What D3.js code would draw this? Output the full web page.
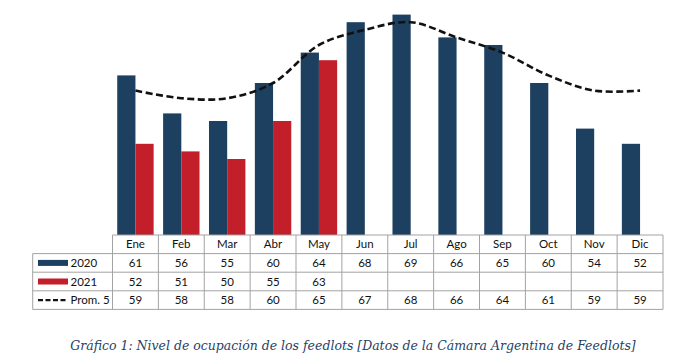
<!DOCTYPE html>
<html>
<head>
<meta charset="utf-8">
<script src="https://cdn.jsdelivr.net/npm/d3@7"></script>
<style>
  html, body { margin: 0; padding: 0; background: #fff; }
  svg { display: block; }
</style>
</head>
<body>
<svg id="chart" width="698" height="360"></svg>
<script>
const months = ["Ene","Feb","Mar","Abr","May","Jun","Jul","Ago","Sep","Oct","Nov","Dic"];
const values2020 = [61,56,55,60,64,68,69,66,65,60,54,52];
const values2021 = [52,51,50,55,63,null,null,null,null,null,null,null];
const prom5 = [59,58,58,60,65,67,68,66,64,61,59,59];
const seriesNames = ["2020","2021"];
const legendLabels = ["2020","2021","Prom. 5"];
const caption = "Gráfico 1: Nivel de ocupación de los feedlots [Datos de la Cámara Argentina de Feedlots]";

const colors = { "2020": "#1d3f60", "2021": "#c21f2b" };
const gridColor = "#a3a3a3";
const svg = d3.select("#chart");

const tableLeft = 112.5, tableRight = 663, legendLeft = 32.7;
const baseY = 235, rowH = 18.6;

const x = d3.scaleBand().domain(months).range([tableLeft, tableRight]).padding(0);
const xs = d3.scaleBand().domain(seriesNames).range([0, x.bandwidth()]).paddingInner(0).paddingOuter(0.26);
const y = d3.scaleLinear().domain([40, 70]).range([baseY, 7]);

const series = { "2020": values2020, "2021": values2021 };

// bars
seriesNames.forEach(s => {
  svg.append("g").selectAll("rect")
    .data(months.map((m, i) => ({ m, v: series[s][i] })).filter(d => d.v != null))
    .join("rect")
    .attr("x", d => x(d.m) + xs(s))
    .attr("y", d => y(d.v))
    .attr("width", xs.bandwidth())
    .attr("height", d => y(40) - y(d.v))
    .attr("fill", colors[s]);
});

// dashed smooth line
const line = d3.line()
  .x((d, i) => x(months[i]) + x.bandwidth() / 2)
  .y(d => y(d))
  .curve(d3.curveCatmullRom.alpha(0.5));
svg.append("path")
  .attr("d", line(prom5))
  .attr("fill", "none")
  .attr("stroke", "#111")
  .attr("stroke-width", 2.6)
  .attr("stroke-dasharray", "7,3.5");

// table
const tbl = svg.append("g");
const font = "Lato, 'Open Sans', sans-serif";
// horizontal lines
const rowsY = [0,1,2,3,4].map(k => baseY + k * rowH);
rowsY.forEach((yy, k) => {
  tbl.append("line")
    .attr("x1", k === 0 ? tableLeft : legendLeft).attr("x2", tableRight)
    .attr("y1", yy).attr("y2", yy)
    .attr("stroke", gridColor).attr("stroke-width", 1);
});
// vertical lines
months.forEach(m => {
  tbl.append("line")
    .attr("x1", x(m)).attr("x2", x(m))
    .attr("y1", baseY).attr("y2", rowsY[4])
    .attr("stroke", gridColor);
});
tbl.append("line").attr("x1", tableRight).attr("x2", tableRight)
  .attr("y1", baseY).attr("y2", rowsY[4]).attr("stroke", gridColor);
tbl.append("line").attr("x1", legendLeft).attr("x2", legendLeft)
  .attr("y1", rowsY[1]).attr("y2", rowsY[4]).attr("stroke", gridColor);

// header
tbl.selectAll("text.hdr").data(months).join("text")
  .attr("class", "hdr")
  .attr("x", m => x(m) + x.bandwidth() / 2)
  .attr("y", baseY + rowH / 2 + 4)
  .attr("text-anchor", "middle")
  .attr("font-family", font).attr("font-size", 11.5).attr("fill", "#111")
  .text(m => m);

const rowsData = [values2020, values2021, prom5];
rowsData.forEach((arr, r) => {
  const cy = rowsY[r + 1] + rowH / 2 + 4;
  tbl.append("g").selectAll("text")
    .data(months.map((m, i) => ({ m, v: arr[i] })).filter(d => d.v != null))
    .join("text")
    .attr("x", d => x(d.m) + x.bandwidth() / 2)
    .attr("y", cy)
    .attr("text-anchor", "middle")
    .attr("font-family", font).attr("font-size", 11.5).attr("fill", "#111")
    .text(d => d.v);
  // legend key
  const ky = rowsY[r + 1] + rowH / 2;
  if (r < 2) {
    tbl.append("rect").attr("x", 38).attr("y", ky - 3).attr("width", 30).attr("height", 6)
      .attr("fill", colors[seriesNames[r]]);
  } else {
    tbl.append("line").attr("x1", 38).attr("x2", 68).attr("y1", ky).attr("y2", ky)
      .attr("stroke", "#111").attr("stroke-width", 2.2).attr("stroke-dasharray", "5,2.5");
  }
  tbl.append("text").attr("x", 70.5).attr("y", cy)
    .attr("font-family", font).attr("font-size", 11.5).attr("fill", "#111")
    .text(legendLabels[r]);
});

// caption
const cap = svg.append("text")
  .attr("x", 353).attr("y", 350)
  .attr("text-anchor", "middle")
  .attr("font-family", "'DejaVu Serif', 'Liberation Serif', serif")
  .attr("font-style", "italic")
  .attr("font-size", 14)
  .attr("fill", "#283f66")
  .text(caption);
const w = cap.node().getComputedTextLength();
cap.attr("font-size", 14 * 566 / w);
</script>
</body>
</html>
